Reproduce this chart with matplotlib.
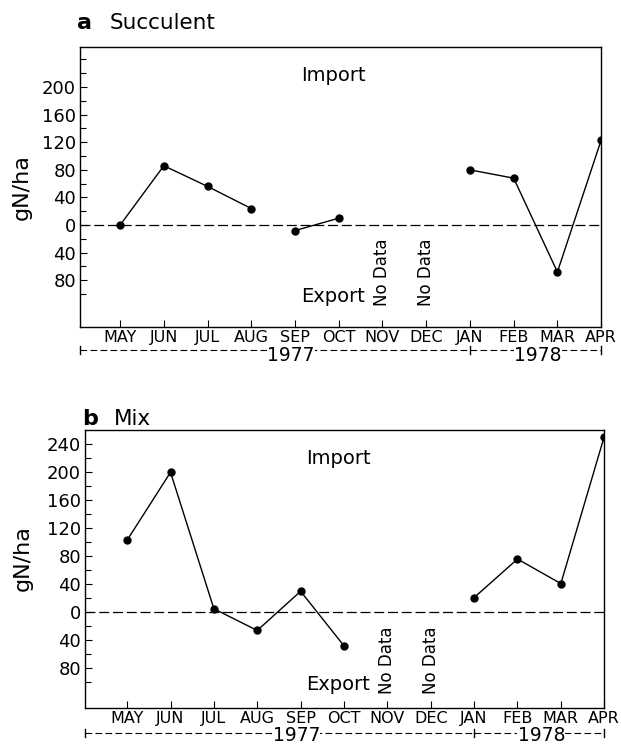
# ================= 导入依赖 =================
import numpy as np
import matplotlib
matplotlib.use('Agg')
import matplotlib.pyplot as plt
import matplotlib.transforms as mtransforms

# 原图字体偏宽，DejaVu Sans 的字宽更接近
plt.rcParams['font.family'] = ['DejaVu Sans']

# ================= 1. 数据 =================
months = ['MAY', 'JUN', 'JUL', 'AUG', 'SEP', 'OCT', 'NOV', 'DEC', 'JAN', 'FEB', 'MAR', 'APR']
# gN/ha，正值为 Import，负值为 Export，nan 表示无数据
succulent = [0, 86, 56, 24, -8, 10, np.nan, np.nan, 80, 68, -68, 123]
mix = [103, 200, 5, -26, 30, -48, np.nan, np.nan, 21, 76, 41, 251]
# 连线分段（起止月份索引，右端不含）
succulent_segments = [(0, 4), (4, 6), (8, 12)]
mix_segments = [(0, 6), (8, 12)]
no_data_months = ['NOV', 'DEC']
years = ['1977', '1978']

ytick_a = [200, 160, 120, 80, 40, 0, -40, -80]
ytick_b = [240, 200, 160, 120, 80, 40, 0, -40, -80]

# ================= 2. 画布 =================
fig = plt.figure(figsize=(6.21, 7.47), dpi=100)
ax_a = fig.add_axes([0.129, 0.562, 0.839, 0.375])
ax_b = fig.add_axes([0.137, 0.052, 0.836, 0.372])


def draw_panel(ax, values, segments, yticks, ylim, xlim, letter, title,
               label_x, label_y, title_y, bracket_y, year_y):
    x = np.arange(len(months))
    vals = np.array(values, dtype=float)

    # 每一段单独连线
    for s, e in segments:
        ax.plot(x[s:e], vals[s:e], color='black', lw=1.0, marker='o', ms=5, zorder=3)

    # 零线
    ax.axhline(0, color='black', lw=0.9, dashes=(8, 3), zorder=1)

    ax.set_xlim(*xlim)
    ax.set_ylim(*ylim)

    # y 轴：负值显示绝对值
    ax.set_yticks(yticks)
    ax.set_yticklabels([str(abs(t)) for t in yticks], fontsize=13)
    ax.set_yticks(np.arange(-100, ylim[1], 20), minor=True)
    ax.tick_params(axis='y', which='major', direction='in', length=5, width=0.8, pad=3)
    ax.tick_params(axis='y', which='minor', direction='in', length=4, width=0.8)

    ax.set_xticks(x)
    ax.set_xticklabels(months, fontsize=11.5)
    ax.tick_params(axis='x', direction='in', length=5, width=0.8, pad=2)

    for sp in ax.spines.values():
        sp.set_linewidth(1.0)

    ax.set_ylabel('gN/ha', fontsize=16)
    ax.yaxis.set_label_coords(label_x, label_y)

    # Import / Export 标注
    ax.text(4.87, ylim[1] - 0.1 * (ylim[1] - ylim[0]), 'Import', fontsize=14, ha='center', va='center')
    ax.text(4.87, -103, 'Export', fontsize=14, ha='center', va='center')

    for m in no_data_months:
        ax.text(months.index(m), -68, 'No Data', fontsize=12, rotation=90, ha='center', va='center')

    # 年份括线（x 为数据坐标，y 为轴坐标）
    trans = mtransforms.blended_transform_factory(ax.transData, ax.transAxes)
    ax.plot([xlim[0], 8], [bracket_y, bracket_y], color='black', lw=0.8, dashes=(6, 3),
            transform=trans, clip_on=False)
    ax.plot([8, 11], [bracket_y, bracket_y], color='black', lw=0.8, dashes=(6, 3),
            transform=trans, clip_on=False)
    for xe in [xlim[0], 8, 11]:
        ax.plot([xe, xe], [bracket_y - 0.014, bracket_y + 0.014], color='black', lw=1.0,
                transform=trans, clip_on=False)
    ax.text(3.9, year_y, years[0], fontsize=13.5, ha='center', va='center', transform=trans,
            bbox=dict(facecolor='white', edgecolor='none', pad=0.3))
    ax.text(9.55, year_y, years[1], fontsize=13.5, ha='center', va='center', transform=trans,
            bbox=dict(facecolor='white', edgecolor='none', pad=0.3))

    # 面板标题
    ax.text(-0.006, title_y, letter, fontsize=16, fontweight='bold', transform=ax.transAxes,
            ha='left', va='baseline')
    ax.text(0.056, title_y, title, fontsize=15.5, transform=ax.transAxes, ha='left', va='baseline')


draw_panel(ax_a, succulent, succulent_segments, ytick_a, (-148, 258), (-0.915, 11.0), 'a', 'Succulent',
           -0.092, 0.5, 1.063, -0.082, -0.1)
draw_panel(ax_b, mix, mix_segments, ytick_b, (-137, 260), (-0.97, 11.0), 'b', 'Mix',
           -0.1, 0.54, 1.018, -0.088, -0.097)

plt.savefig('out.png', dpi=100)
